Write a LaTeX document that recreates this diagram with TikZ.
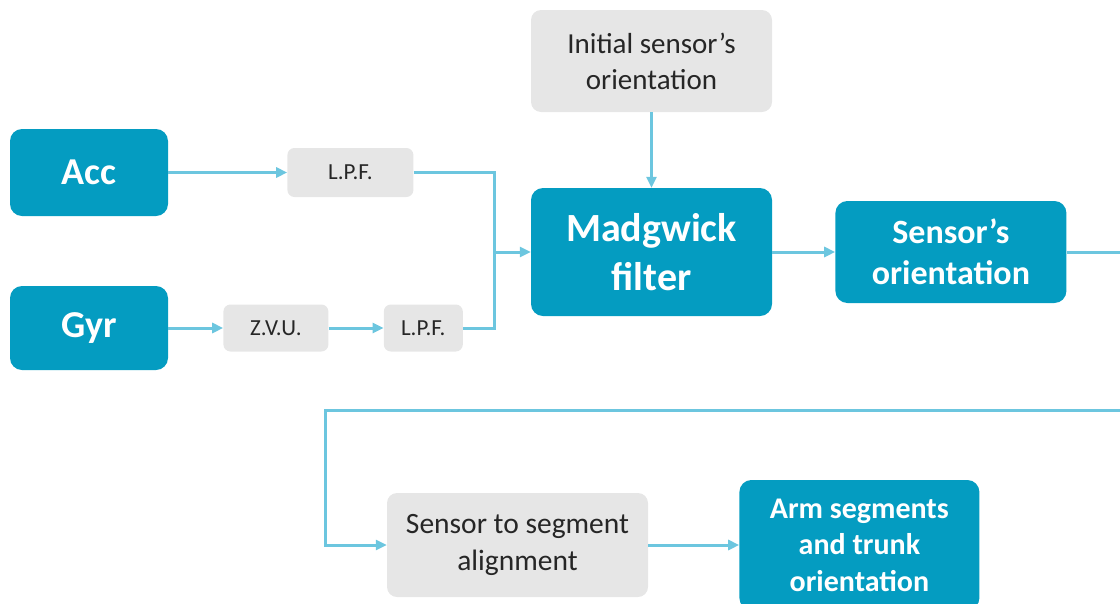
\documentclass[tikz,border=0pt]{standalone}
\usepackage{fontspec}
\setmainfont{Carlito}
\usepackage{tikz}
\usetikzlibrary{arrows.meta,positioning,calc}
\definecolor{imuteal}{HTML}{049CC1}
\definecolor{imugrey}{HTML}{E6E6E6}
\definecolor{imuline}{HTML}{6CC6DF}
\tikzset{
  bluebox/.style={
    rounded corners=12pt,
    fill=imuteal,
    text=white,
    inner sep=0pt,
    align=center,
    font=\bfseries
  },
  greybox/.style={
    rounded corners=10pt,
    fill=imugrey,
    text=black!85,
    inner sep=0pt,
    align=center
  },
  smallbox/.style={
    greybox,
    rounded corners=7pt,
    minimum height=47pt,
    font=\fontsize{23}{27}\selectfont
  },
  link/.style={
    -{Triangle[length=11pt,width=10pt]},
    line width=3pt,
    draw=imuline
  }
}

\begin{document}
\begin{tikzpicture}[x=1pt,y=-1pt]
\useasboundingbox (0,0) rectangle (1120,603);
\clip (0,0) rectangle (1120,603);
% inputs
\node[bluebox, minimum width=158pt, minimum height=87pt,
  font=\bfseries\fontsize{38}{44}\selectfont] (acc) at (89,172.5) {\raisebox{-3pt}{Acc}};
\node[bluebox, minimum width=158pt, minimum height=84pt,
  font=\bfseries\fontsize{38}{44}\selectfont] (gyr) at (89,328) {Gyr};
\node[smallbox, minimum width=126pt, minimum height=49pt, right=119pt of acc] (lpfa) {L.P.F.};
\node[smallbox, minimum width=105pt, right=55pt of gyr] (zvu) {Z.V.U.};
\node[smallbox, minimum width=79pt, right=55pt of zvu] (lpfb) {L.P.F.};
% filter
\node[bluebox, minimum width=241pt, minimum height=128pt,
  font=\bfseries\fontsize{40}{49}\selectfont] (madg) at (651.5,252) {Madgwick\\filter};
\node[greybox, minimum width=241pt, minimum height=102pt,
  font=\fontsize{29}{36}\selectfont] (init) at (651.5,61) {Initial sensor’s\\orientation};
\node[bluebox, minimum width=231pt, minimum height=102pt, right=63pt of madg,
  font=\bfseries\fontsize{34}{41}\selectfont] (sensor) {Sensor’s\\orientation};
% segments
\node[greybox, minimum width=261pt, minimum height=104pt,
  font=\fontsize{29.5}{37}\selectfont] (align) at (517.5,545) {Sensor to segment\\alignment};
\node[bluebox, minimum width=240pt, minimum height=130pt, right=91pt of align,
  font=\bfseries\fontsize{30}{36.5}\selectfont] (arm) {Arm segments\\and trunk\\orientation};
\coordinate (join) at (494,252);
\coordinate (rout) at (1140,252);
\coordinate (bend) at (325,410);
\draw[link] (acc) -- (lpfa);
\draw[link] (gyr) -- (zvu);
\draw[link] (zvu) -- (lpfb);
\draw[link,-] (lpfa.east) -| (join);
\draw[link,-] (lpfb.east) -| (join);
\draw[link] (join) -- (madg.west);
\draw[link] (init) -- (madg);
\draw[link] (madg) -- (sensor);
\draw[link] (sensor.east) -- (rout) |- (bend) |- (align.west);
\draw[link] (align) -- (arm);
\end{tikzpicture}
\end{document}
